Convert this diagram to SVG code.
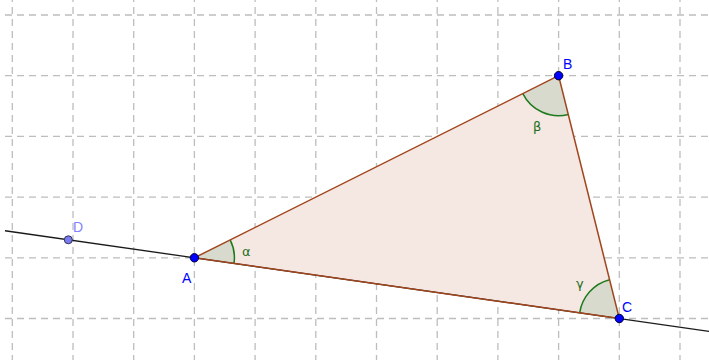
<svg xmlns="http://www.w3.org/2000/svg" width="709" height="360" viewBox="0 0 709 360">
<style>
.grid line{stroke:#bdbdbd;stroke-width:1.3;stroke-dasharray:7 5;fill:none}
.gv{stroke-dashoffset:5}
.gh{stroke-dashoffset:0}
.edge{stroke:#a0461e;stroke-width:1.5;fill:none}
.angle{fill:#d8dacd;stroke:none}
.arc{fill:none;stroke:#1d7a1d;stroke-width:1.5}
.pt{fill:#0000ff;stroke:#000033;stroke-width:1}
.lbl{font-family:"Liberation Sans",Arial,sans-serif;font-size:14px;fill:#0000ff}
.albl{font-family:"DejaVu Sans","Liberation Sans",sans-serif;font-size:13px;fill:#1d6e1d}
</style>
<rect width="709" height="360" fill="#ffffff"/>
<g id="grid" class="grid">
<line class="gv" x1="12.3" y1="0" x2="12.3" y2="360"/>
<line class="gv" x1="73" y1="0" x2="73" y2="360"/>
<line class="gv" x1="133.7" y1="0" x2="133.7" y2="360"/>
<line class="gv" x1="194.4" y1="0" x2="194.4" y2="360"/>
<line class="gv" x1="255.1" y1="0" x2="255.1" y2="360"/>
<line class="gv" x1="315.8" y1="0" x2="315.8" y2="360"/>
<line class="gv" x1="376.5" y1="0" x2="376.5" y2="360"/>
<line class="gv" x1="437.2" y1="0" x2="437.2" y2="360"/>
<line class="gv" x1="497.9" y1="0" x2="497.9" y2="360"/>
<line class="gv" x1="558.6" y1="0" x2="558.6" y2="360"/>
<line class="gv" x1="619.3" y1="0" x2="619.3" y2="360"/>
<line class="gv" x1="680" y1="0" x2="680" y2="360"/>
<line class="gh" x1="5" y1="15" x2="709" y2="15"/>
<line class="gh" x1="5" y1="75.7" x2="709" y2="75.7"/>
<line class="gh" x1="5" y1="136.4" x2="709" y2="136.4"/>
<line class="gh" x1="5" y1="197.1" x2="709" y2="197.1"/>
<line class="gh" x1="5" y1="257.8" x2="709" y2="257.8"/>
<line class="gh" x1="5" y1="318.5" x2="709" y2="318.5"/>
</g>
<g id="triangle">
<polygon points="194.4,257.8 558.6,75.7 619.3,318.5" fill="#f5e7e2" stroke="none"/>
</g>
<g id="angles">
<g id="angle-alpha">
<path class="angle" d="M194.4,257.8 L230.18,239.91 A40,40 0 0 1 234,263.46 Z"/>
<path class="arc" d="M230.18,239.91 A40,40 0 0 1 234,263.46"/>
<text class="albl" x="242" y="256">α</text>
</g>
<g id="angle-beta">
<path class="angle" d="M558.6,75.7 L568.3,114.51 A40,40 0 0 1 522.82,93.59 Z"/>
<path class="arc" d="M568.3,114.51 A40,40 0 0 1 522.82,93.59"/>
<text class="albl" x="533" y="131">β</text>
</g>
<g id="angle-gamma">
<path class="angle" d="M619.3,318.5 L579.7,312.84 A40,40 0 0 1 609.6,279.69 Z"/>
<path class="arc" d="M579.7,312.84 A40,40 0 0 1 609.6,279.69"/>
<text class="albl" x="576" y="288">γ</text>
</g>
</g>
<g id="connectors">
<line id="line-DA" x1="5" y1="230.74" x2="709" y2="331.31" stroke="#1a1a1a" stroke-width="1.3"/>
<line id="edge-AB" class="edge" x1="194.4" y1="257.8" x2="558.6" y2="75.7"/>
<line id="edge-BC" class="edge" x1="558.6" y1="75.7" x2="619.3" y2="318.5"/>
<line id="edge-CA" class="edge" x1="619.3" y1="318.5" x2="194.4" y2="257.8"/>
</g>
<g id="node-D">
<circle cx="68.3" cy="239.8" r="4" fill="#7b7bf0" stroke="#33335a" stroke-width="1"/>
<text class="lbl" x="73" y="232" style="fill:#8383ff">D</text>
</g>
<g id="node-A">
<circle class="pt" cx="194.4" cy="257.8" r="4.2"/>
<text class="lbl" x="182" y="283">A</text>
</g>
<g id="node-B">
<circle class="pt" cx="558.6" cy="75.7" r="4.2"/>
<text class="lbl" x="563" y="69">B</text>
</g>
<g id="node-C">
<circle class="pt" cx="619.3" cy="318.5" r="4.2"/>
<text class="lbl" x="622" y="312">C</text>
</g>
</svg>
